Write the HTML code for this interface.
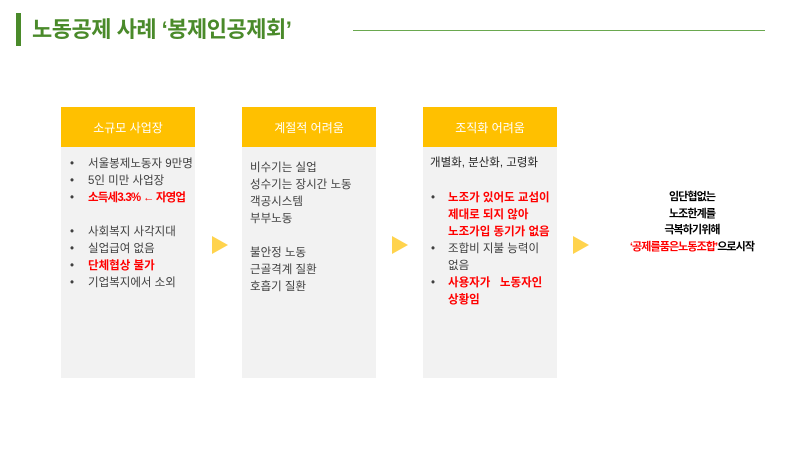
<!DOCTYPE html>
<html><head><meta charset="utf-8"><style>
body{margin:0;width:800px;height:450px;background:#fff;position:relative;overflow:hidden;font-family:"Liberation Sans","Noto Sans CJK KR",sans-serif}
.a{position:absolute}
.hd{position:absolute;top:107px;width:134px;height:40px;background:#ffc000;color:#fff;font-size:12px;display:flex;align-items:center;justify-content:center}
.bd{position:absolute;top:147px;width:134px;height:231px;background:#f2f2f2}
.t{position:absolute;font-size:11.5px;color:#404040;white-space:nowrap;line-height:17px}
.r{color:#ff0000;font-weight:bold}
.tri{position:absolute;width:0;height:0;border-top:9px solid transparent;border-bottom:9px solid transparent;border-left:16px solid #ffd34d}
</style></head><body>
<div class="a" style="left:16px;top:13px;width:5px;height:33px;background:#4a8a2a"></div>
<div class="a" style="left:32px;top:13px;font-size:22px;font-weight:bold;color:#4a8a2a;line-height:33px;letter-spacing:-0.5px">노동공제 사례 ‘봉제인공제회’</div>
<div class="a" style="left:353px;top:30px;width:412px;height:1px;background:#6aa84f"></div>

<div class="hd" style="left:61px">소규모 사업장</div><div class="bd" style="left:61px"></div>
<div class="hd" style="left:242px">계절적 어려움</div><div class="bd" style="left:242px"></div>
<div class="hd" style="left:423px">조직화 어려움</div><div class="bd" style="left:423px"></div>

<div class="t" style="left:70px;top:156px">•<br>•<br>•<br><br>•<br>•<br>•<br>•</div>
<div class="t" style="left:88px;top:156px">서울봉제노동자 9만명<br>5인 미만 사업장<br><span class="r" style="letter-spacing:-0.8px">소득세3.3% ← 자영업</span><br><br>사회복지 사각지대<br>실업급여 없음<br><span class="r">단체협상 불가</span><br>기업복지에서 소외</div>

<div class="t" style="left:250px;top:160px">비수기는 실업<br>성수기는 장시간 노동<br>객공시스템<br>부부노동<br><br>불안정 노동<br>근골격계 질환<br>호흡기 질환</div>

<div class="t" style="left:430px;top:155px;color:#262626">개별화, 분산화, 고령화</div>
<div class="t" style="left:431px;top:190px">•<br><br><br>•<br><br>•</div>
<div class="t" style="left:448px;top:190px"><span class="r">노조가 있어도 교섭이<br>제대로 되지 않아<br>노조가입 동기가 없음</span><br>조합비 지불 능력이<br>없음<br><span class="r">사용자가&nbsp;&nbsp; 노동자인<br>상황임</span></div>

<div class="tri" style="left:212px;top:236px"></div>
<div class="tri" style="left:392px;top:236px"></div>
<div class="tri" style="left:573px;top:236px"></div>

<div class="a" style="left:592px;top:189px;width:200px;text-align:center;font-size:11px;font-weight:bold;line-height:16.7px;color:#000;letter-spacing:-0.9px">임단협없는<br>노조한계를<br>극복하기위해<br><span style="color:#ff0000">‘공제를품은노동조합’</span>으로시작</div>
</body></html>
